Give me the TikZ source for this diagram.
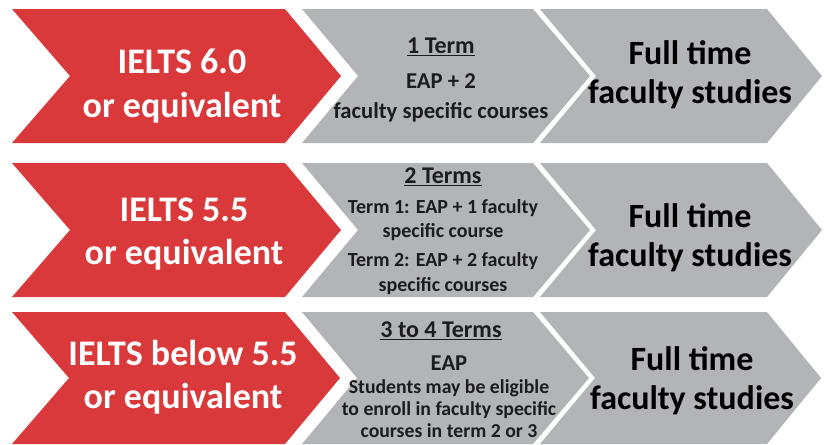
\documentclass[tikz,border=0pt]{standalone}
\usepackage{fontspec}
\setmainfont{Carlito}
\definecolor{ieltsred}{RGB}{218,57,59}
\definecolor{ieltsgrey}{RGB}{178,180,184}
\definecolor{ieltsink}{RGB}{28,28,28}
\begin{document}
\begin{tikzpicture}[x=0.75pt,y=-0.75pt,
  redchev/.style={fill=ieltsred},
  greychev/.style={fill=ieltsgrey},
  scoretext/.style={text=white,align=center,font=\fontsize{27}{32.5}\selectfont\bfseries},
  goaltext/.style={text=black,align=center,font=\fontsize{25.5}{29.25}\selectfont\bfseries},
  termtext/.style={text=ieltsink,anchor=base,font=\fontsize{18}{21}\selectfont\bfseries},
  plantext/.style={text=ieltsink,align=center,anchor=base}]
\useasboundingbox (0,0) rectangle (827,444);
% row 1
\fill[redchev] (12,9)--(285,9)--(341,76)--(285,143)--(12,143)--(70,76)--cycle;
\fill[greychev] (302,9)--(533,9)--(590,76)--(533,143)--(302,143)--(358,76)--cycle;
\fill[greychev] (540,9)--(767,9)--(822,76)--(767,143)--(540,143)--(596,76)--cycle;
% row 2
\fill[redchev] (12,163)--(285,163)--(341,230)--(285,297)--(12,297)--(70,230)--cycle;
\fill[greychev] (302,163)--(533,163)--(590,230)--(533,297)--(302,297)--(358,230)--cycle;
\fill[greychev] (540,163)--(767,163)--(822,230)--(767,297)--(540,297)--(596,230)--cycle;
% row 3
\fill[redchev] (12,312)--(285,312)--(340,378)--(285,444)--(12,444)--(69,378)--cycle;
\fill[greychev] (302,312)--(533,312)--(589,378)--(533,444)--(302,444)--(357,378)--cycle;
\fill[greychev] (540,312)--(767,312)--(821,378)--(767,444)--(540,444)--(595,378)--cycle;
% entry levels
\node[scoretext] (score1) at (182,86) {IELTS 6.0\\or equivalent};
\node[scoretext] (score2) at (184,234) {IELTS 5.5\\or equivalent};
\node[scoretext] (score3) at (183,377) {IELTS below 5.5\\or equivalent};
% pathway (base = last line)
\node[termtext] (term1) at (441,53) {\underline{1 Term}};
\node[plantext,font=\fontsize{17}{22.5}\selectfont\bfseries] (plan1) at (441,118) {EAP + 2\\faculty specific courses};
\node[termtext] (term2) at (443,183) {\underline{2 Terms}};
\node[plantext,font=\fontsize{15}{18.5}\selectfont\bfseries] (plan2) at (443,291)
  {Term 1: EAP + 1 faculty\\specific course\\[3pt]Term 2: EAP + 2 faculty\\specific courses};
\node[termtext] (term3) at (441,337) {\underline{3 to 4 Terms}};
\node[plantext,font=\fontsize{14.8}{16.5}\selectfont\bfseries] (plan3) at (449,437)
  {{\fontsize{17}{16.5}\selectfont EAP}\\[0.5pt]Students may be eligible\\to enroll in faculty specific\\courses in term 2 or 3};
% goal
\node[goaltext] (goal1) at (690,75) {Full time\\faculty studies};
\node[goaltext] (goal2) at (690,238) {Full time\\faculty studies};
\node[goaltext] (goal3) at (692,381) {Full time\\faculty studies};
\end{tikzpicture}
\end{document}
